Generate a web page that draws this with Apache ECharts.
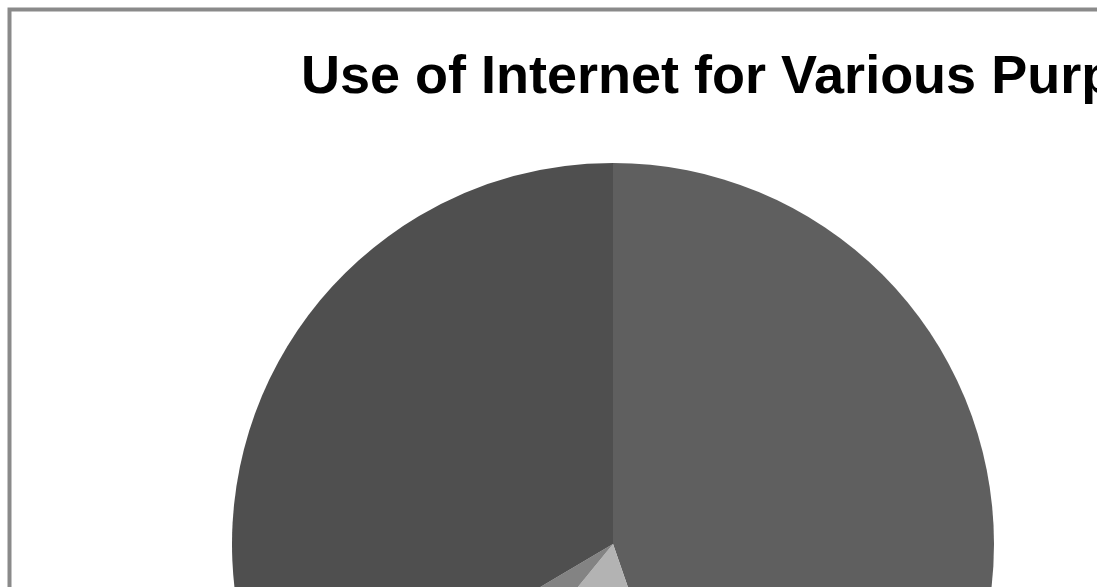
<!DOCTYPE html>
<html>
<head>
<meta charset="utf-8">
<script src="https://cdn.jsdelivr.net/npm/echarts@6/dist/echarts.min.js"></script>
<style>
html,body{margin:0;padding:0;background:#fff;}
#chart{width:1097px;height:587px;}
</style>
</head>
<body>
<div id="chart"></div>
<script>
const titleText = 'Use of Internet for Various Purposes';
const categories = ['Communication', 'Entertainment', 'Shopping', 'Information'];
const values = [44.7, 16.2, 5.6, 33.5];
const colors = ['#5f5f5f', '#b3b3b3', '#838383', '#4f4f4f'];

const chart = echarts.init(document.getElementById('chart'), null, {renderer: 'canvas'});
chart.setOption({
  backgroundColor: '#ffffff',
  animation: false,
  title: {
    text: titleText,
    left: 296,
    top: 46,
    textStyle: {
      fontFamily: 'Liberation Sans, Arial, sans-serif',
      fontWeight: 'bold',
      fontSize: 54,
      lineHeight: 54,
      color: '#000000'
    }
  },
  graphic: [{
    type: 'rect',
    shape: {x: 9.5, y: 9.5, width: 2000, height: 2000},
    style: {fill: 'none', stroke: '#8a8a8a', lineWidth: 4},
    silent: true,
    z: 10
  }],
  series: [{
    type: 'pie',
    center: [613, 544],
    radius: [0, 381],
    startAngle: 90,
    clockwise: true,
    label: {show: false},
    labelLine: {show: false},
    itemStyle: {borderWidth: 0},
    emphasis: {disabled: true},
    data: categories.map((c, i) => ({name: c, value: values[i], itemStyle: {color: colors[i]}}))
  }]
});
</script>
</body>
</html>
